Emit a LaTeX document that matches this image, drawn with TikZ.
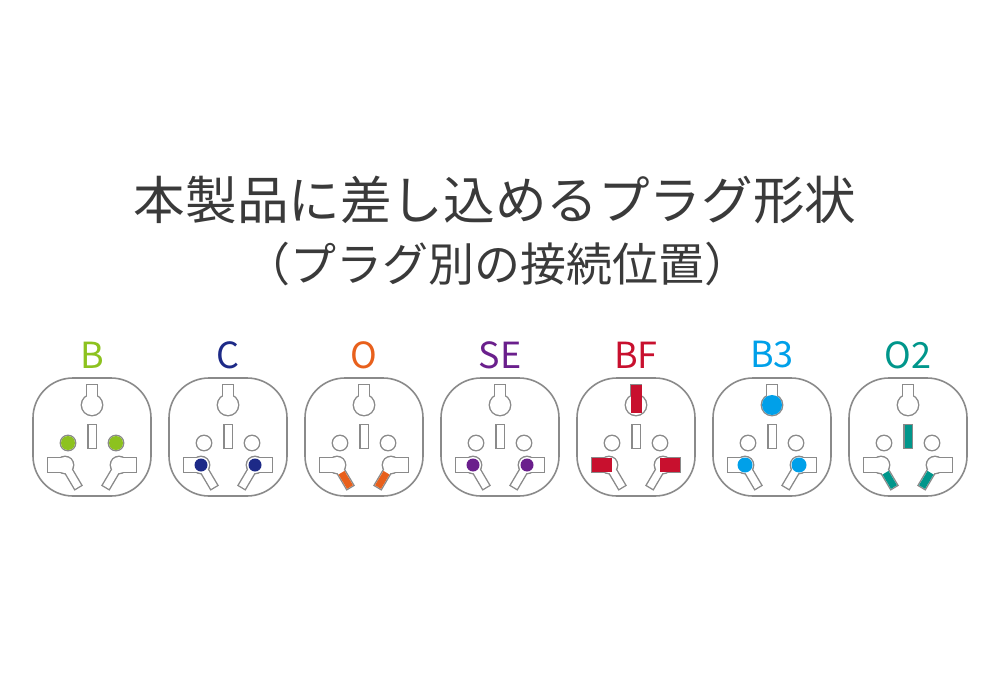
\documentclass[tikz,border=0pt]{standalone}
\usepackage{fontspec}
\setmainfont{Noto Sans CJK JP}
\definecolor{gB}{HTML}{8DC21F}
\definecolor{gC}{HTML}{1D2A87}
\definecolor{gO}{HTML}{E8601C}
\definecolor{gSE}{HTML}{6A1F8C}
\definecolor{gBF}{HTML}{C8102E}
\definecolor{gBt}{HTML}{00A0E9}
\definecolor{gOt}{HTML}{00968B}
\definecolor{outl}{HTML}{8A8A8A}
\definecolor{ink}{HTML}{3A3A3A}
\tikzset{
  hole/.style={draw=outl,line width=1.4pt},
  plug label/.style={font=\fontsize{18}{18}\selectfont},
}
% socket holes (local px coordinates, y down)
\newcommand\holes[1]{%
  \path[#1] (-5,-52) rectangle (5,-36);
  \path[#1] (0,-32) circle (10);
  \path[#1] (-3.5,-12) rectangle (3.5,11);
  \path[#1] (-24,6) circle (7);
  \path[#1] (24,6) circle (7);
  \path[#1] (-24,26.2) -- (-11,48.2) -- (-17,51.8) -- (-30,29.8) -- cycle;
  \path[#1] (-44,21) rectangle (-27,35);
  \path[#1] (-27,28) circle (8);
  \path[#1] (24,26.2) -- (11,48.2) -- (17,51.8) -- (30,29.8) -- cycle;
  \path[#1] (44,21) rectangle (27,35);
  \path[#1] (27,28) circle (8);
}
\newcommand\socket[1]{%
  \draw[outl,line width=0.8pt,rounded corners=20] (-59,-59) rectangle (59,59);
  \holes{hole}
  \holes{fill=white}
  \node[plug label] at (0,-82) {#1};
}
\begin{document}
\begin{tikzpicture}[x=0.5pt,y=-0.5pt]
  \useasboundingbox (0,0) rectangle (1000,700);
  \node[ink] (title) at (495,200) {\fontsize{25.8}{26}\selectfont 本製品に差し込めるプラグ形状};
  \node[ink] (sub) at (497,264) {\fontsize{23}{23}\selectfont （プラグ別の接続位置）};

  % B
  \begin{scope}[shift={(92,437)}]
    \socket{\color{gB}B}
    \fill[gB] (-24,6) circle (7) (24,6) circle (7);
  \end{scope}
  % C
  \begin{scope}[shift={(228,437)}]
    \socket{\color{gC}C}
    \fill[gC] (-27,28) circle (6.5) (27,28) circle (6.5);
  \end{scope}
  % O
  \begin{scope}[shift={(364,437)}]
    \socket{\color{gO}O}
    \fill[gO] (-19.5,33.9) -- (-11,48.2) -- (-17,51.8) -- (-25.5,37.5) -- cycle;
    \fill[gO] (19.5,33.9) -- (11,48.2) -- (17,51.8) -- (25.5,37.5) -- cycle;
  \end{scope}
  % SE
  \begin{scope}[shift={(500,437)}]
    \socket{\color{gSE}SE}
    \fill[gSE] (-27,28) circle (6.5) (27,28) circle (6.5);
  \end{scope}
  % BF
  \begin{scope}[shift={(636,437)}]
    \socket{\color{gBF}BF}
    \fill[gBF] (-5.5,-52) rectangle (5.5,-24);
    \fill[gBF] (-44,21) rectangle (-24,35);
    \fill[gBF] (44,21) rectangle (24,35);
  \end{scope}
  % B3
  \begin{scope}[shift={(772,437)}]
    \socket{\color{gBt}B3}
    \fill[gBt] (0,-32) circle (10);
    \fill[gBt] (-27,28) circle (7.5);
    \fill[gBt] (27,28) circle (7.5);
  \end{scope}
  % O2
  \begin{scope}[shift={(908,437)}]
    \socket{\color{gOt}O2}
    \fill[gOt] (-3.5,-12) rectangle (3.5,11);
    \fill[gOt] (-19.5,33.9) -- (-11,48.2) -- (-17,51.8) -- (-25.5,37.5) -- cycle;
    \fill[gOt] (19.5,33.9) -- (11,48.2) -- (17,51.8) -- (25.5,37.5) -- cycle;
  \end{scope}
\end{tikzpicture}
\end{document}
